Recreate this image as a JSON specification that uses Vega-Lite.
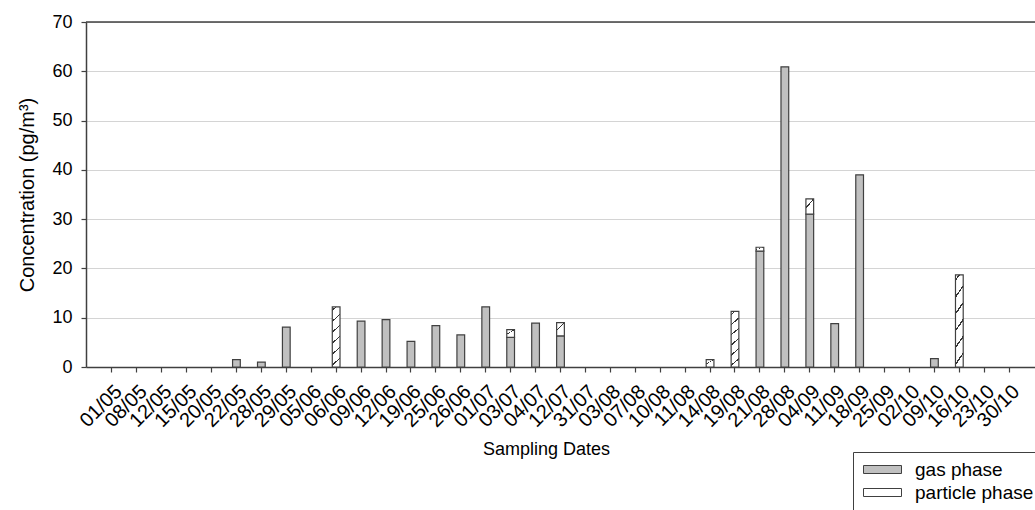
{
  "$schema": "https://vega.github.io/schema/vega-lite/v6.json",
  "width": 949,
  "height": 345,
  "autosize": {"type": "none"},
  "padding": {"left": 86, "top": 22, "right": 0, "bottom": 143},
  "background": "white",
  "config": {
    "font": "Liberation Sans",
    "view": {"stroke": null},
    "axis": {
      "labelFont": "Liberation Sans",
      "titleFont": "Liberation Sans",
      "labelColor": "#000000",
      "titleColor": "#000000",
      "titleFontWeight": "normal",
      "labelFontSize": 18,
      "titleFontSize": 18,
      "domainColor": "#404040",
      "domainWidth": 1.5,
      "tickColor": "#404040",
      "tickWidth": 1.2,
      "tickSize": 5
    }
  },
  "layer": [
    {
      "data": {"values": [{}]},
      "mark": {"type": "rule", "color": "#404040", "strokeWidth": 1.5},
      "encoding": {"y": {"datum": 70, "type": "quantitative"}}
    },
    {
      "data": {
        "values": [
          {"date": "22/05", "phase": "gas phase", "value": 1.5},
          {"date": "28/05", "phase": "gas phase", "value": 1.0},
          {"date": "29/05", "phase": "gas phase", "value": 8.1},
          {"date": "06/06", "phase": "particle phase", "value": 12.2},
          {"date": "09/06", "phase": "gas phase", "value": 9.3},
          {"date": "12/06", "phase": "gas phase", "value": 9.6},
          {"date": "19/06", "phase": "gas phase", "value": 5.2},
          {"date": "25/06", "phase": "gas phase", "value": 8.4},
          {"date": "26/06", "phase": "gas phase", "value": 6.5},
          {"date": "01/07", "phase": "gas phase", "value": 12.2},
          {"date": "03/07", "phase": "gas phase", "value": 6.0},
          {"date": "03/07", "phase": "particle phase", "value": 1.6},
          {"date": "04/07", "phase": "gas phase", "value": 8.9},
          {"date": "12/07", "phase": "gas phase", "value": 6.3},
          {"date": "12/07", "phase": "particle phase", "value": 2.7},
          {"date": "14/08", "phase": "particle phase", "value": 1.5},
          {"date": "19/08", "phase": "particle phase", "value": 11.3},
          {"date": "21/08", "phase": "gas phase", "value": 23.5},
          {"date": "21/08", "phase": "particle phase", "value": 0.8},
          {"date": "28/08", "phase": "gas phase", "value": 60.9},
          {"date": "04/09", "phase": "gas phase", "value": 31.0},
          {"date": "04/09", "phase": "particle phase", "value": 3.1},
          {"date": "11/09", "phase": "gas phase", "value": 8.8},
          {"date": "18/09", "phase": "gas phase", "value": 39.0},
          {"date": "09/10", "phase": "gas phase", "value": 1.7},
          {"date": "16/10", "phase": "particle phase", "value": 18.7}
        ]
      },
      "mark": {"type": "bar", "stroke": "#404040", "strokeWidth": 1.2},
      "encoding": {
        "x": {
          "field": "date",
          "type": "ordinal",
          "scale": {
            "domain": ["01/05", "08/05", "12/05", "15/05", "20/05", "22/05", "28/05", "29/05", "05/06", "06/06", "09/06", "12/06", "19/06", "25/06", "26/06", "01/07", "03/07", "04/07", "12/07", "31/07", "03/08", "07/08", "10/08", "11/08", "14/08", "19/08", "21/08", "28/08", "04/09", "11/09", "18/09", "25/09", "02/10", "09/10", "16/10", "23/10", "30/10"],
            "paddingInner": 0.69,
            "paddingOuter": 0.88
          },
          "axis": {
            "title": "Sampling Dates",
            "labelAngle": -45,
            "labelFontSize": 20,
            "labelPadding": 9,
            "labelDx": -3,
            "titleX": 460,
            "titleY": 82,
            "titleBaseline": "middle",
            "grid": false
          }
        },
        "y": {
          "field": "value",
          "type": "quantitative",
          "stack": "zero",
          "scale": {"domain": [0, 70], "nice": false},
          "axis": {
            "title": "Concentration (pg/m³)",
            "values": [0, 10, 20, 30, 40, 50, 60, 70],
            "labelPadding": 9,
            "titleX": -59,
            "titleBaseline": "middle",
            "titleFontSize": 20,
            "grid": true,
            "gridColor": "#d4d4d4",
            "gridWidth": 1.2
          }
        },
        "order": {"field": "phase", "sort": "ascending"},
        "fill": {
          "field": "phase",
          "type": "nominal",
          "scale": {"domain": ["gas phase", "particle phase"], "range": ["#c0c0c0", "#ffffff"]},
          "condition": [
            {
              "test": "datum.phase === 'particle phase' && datum.value > 5",
              "value": {
                "gradient": "linear",
                "x1": 0, "y1": 1, "x2": -0.12, "y2": 0,
                "stops": [
                  {"offset": 0, "color": "#ffffff"},
                  {"offset": 0.017, "color": "#ffffff"},
                  {"offset": 0.017, "color": "#333333"},
                  {"offset": 0.041, "color": "#333333"},
                  {"offset": 0.041, "color": "#ffffff"},
                  {"offset": 0.197, "color": "#ffffff"},
                  {"offset": 0.197, "color": "#333333"},
                  {"offset": 0.221, "color": "#333333"},
                  {"offset": 0.221, "color": "#ffffff"},
                  {"offset": 0.377, "color": "#ffffff"},
                  {"offset": 0.377, "color": "#333333"},
                  {"offset": 0.401, "color": "#333333"},
                  {"offset": 0.401, "color": "#ffffff"},
                  {"offset": 0.557, "color": "#ffffff"},
                  {"offset": 0.557, "color": "#333333"},
                  {"offset": 0.581, "color": "#333333"},
                  {"offset": 0.581, "color": "#ffffff"},
                  {"offset": 0.737, "color": "#ffffff"},
                  {"offset": 0.737, "color": "#333333"},
                  {"offset": 0.761, "color": "#333333"},
                  {"offset": 0.761, "color": "#ffffff"},
                  {"offset": 0.917, "color": "#ffffff"},
                  {"offset": 0.917, "color": "#333333"},
                  {"offset": 0.941, "color": "#333333"},
                  {"offset": 0.941, "color": "#ffffff"},
                  {"offset": 1, "color": "#ffffff"}
                ]
              }
            },
            {
              "test": "datum.phase === 'particle phase'",
              "value": {
                "gradient": "linear",
                "x1": 0, "y1": 1, "x2": -0.6, "y2": 0,
                "stops": [
                  {"offset": 0, "color": "#ffffff"},
                  {"offset": 0.26, "color": "#ffffff"},
                  {"offset": 0.26, "color": "#333333"},
                  {"offset": 0.34, "color": "#333333"},
                  {"offset": 0.34, "color": "#ffffff"},
                  {"offset": 1, "color": "#ffffff"}
                ]
              }
            }
          ],
          "legend": {
            "title": null,
            "orient": "none",
            "legendX": 767,
            "legendY": 430,
            "strokeColor": "#404040",
            "fillColor": "#ffffff",
            "padding": 8,
            "labelFont": "Liberation Sans",
            "labelFontSize": 19,
            "labelColor": "#000000",
            "labelOffset": 23,
            "rowPadding": 3,
            "symbolOffset": 12,
            "symbolType": "M-3.8,-0.8H3.8V0.8H-3.8Z",
            "symbolSize": 100,
            "symbolStrokeColor": "#404040",
            "symbolStrokeWidth": 1
          }
        }
      }
    }
  ]
}
